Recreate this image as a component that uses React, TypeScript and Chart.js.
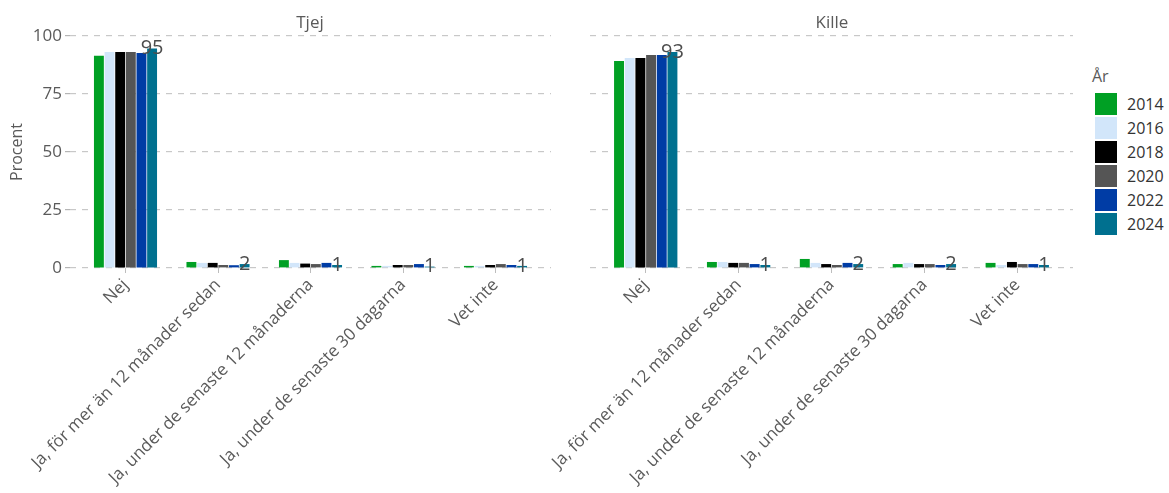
import React, { useEffect, useRef } from "react";
import { Chart, registerables } from "chart.js";

Chart.register(...registerables);

const categories = [
  "Nej",
  "Ja, för mer än 12 månader sedan",
  "Ja, under de senaste 12 månaderna",
  "Ja, under de senaste 30 dagarna",
  "Vet inte",
];
const years = ["2014", "2016", "2018", "2020", "2022", "2024"];
const yearColors = ["#00a024", "#d2e6fa", "#000000", "#555555", "#003ca5", "#00708f"];
const yTicks = [0, 25, 50, 75, 100];

const tjej2014 = [91.5, 2.6, 3.4, 0.9, 0.9];
const tjej2016 = [93.1, 2.2, 2.2, 0.9, 0.9];
const tjej2018 = [93.1, 2.2, 1.9, 1.3, 1.3];
const tjej2020 = [93.1, 1.3, 1.7, 1.3, 1.7];
const tjej2022 = [92.7, 1.2, 2.2, 1.7, 1.3];
const tjej2024 = [94.6, 1.7, 1.3, 0.6, 0.9];

const kille2014 = [89.2, 2.6, 3.9, 1.7, 2.2];
const kille2016 = [90.5, 2.6, 2.2, 2.2, 1.3];
const kille2018 = [90.5, 2.2, 1.7, 1.7, 2.6];
const kille2020 = [91.8, 2.2, 1.3, 1.7, 1.7];
const kille2022 = [91.8, 1.7, 2.2, 1.3, 1.7];
const kille2024 = [93.1, 1.3, 1.7, 1.7, 1.3];

const tjejSeries = [tjej2014, tjej2016, tjej2018, tjej2020, tjej2022, tjej2024];
const killeSeries = [kille2014, kille2016, kille2018, kille2020, kille2022, kille2024];

const FONT = "'Open Sans', 'Noto Sans', sans-serif";
const TEXT = "#5a5a5a";

const lastLabelPlugin = {
  id: "lastLabels",
  afterDatasetsDraw(chart: any) {
    const ctx = chart.ctx;
    const idx = chart.data.datasets.length - 1;
    const meta = chart.getDatasetMeta(idx);
    const ds = chart.data.datasets[idx];
    ctx.save();
    ctx.font = `20px ${FONT}`;
    ctx.fillStyle = "#4d4d4d";
    ctx.textAlign = "center";
    ctx.textBaseline = "middle";
    meta.data.forEach((el: any, i: number) => {
      const v = ds.data[i].y;
      ctx.fillText(String(Math.round(v)), el.x, el.y);
    });
    ctx.restore();
  },
};

function Panel(props: { series: number[][]; showY: boolean; left: number; width: number; yWidth: number; padRight: number }) {
  const ref = useRef<HTMLCanvasElement | null>(null);
  useEffect(() => {
    if (!ref.current) return;
    const chart = new Chart(ref.current, {
      type: "bar",
      data: {
        datasets: props.series.map((vals, k) => ({
          label: years[k],
          data: vals.map((v, i) => ({ x: i + 1, y: v })),
          backgroundColor: yearColors[k],
          borderWidth: 0,
          categoryPercentage: 0.69,
          barPercentage: 0.93,
        })),
      },
      options: {
        animation: false,
        responsive: false,
        maintainAspectRatio: false,
        layout: { padding: { top: 36, right: props.padRight, left: 0, bottom: 0 } },
        plugins: {
          legend: { display: false },
          tooltip: { enabled: false },
          title: { display: false },
        },
        scales: {
          x: {
            type: "linear",
            offset: false,
            min: 0.4,
            max: 5.6,
            afterBuildTicks: (s: any) => {
              s.ticks = categories.map((_, i) => ({ value: i + 1 }));
            },
            afterFit: (s: any) => {
              s.height = 225;
            },
            grid: {
              display: true,
              offset: false,
              drawOnChartArea: false,
              drawTicks: true,
              tickLength: 5,
              tickColor: "#bdbdbd",
              color: "#bdbdbd",
            },
            border: { display: false },
            ticks: {
              autoSkip: false,
              maxRotation: 45,
              minRotation: 45,
              padding: 2,
              color: TEXT,
              font: { family: FONT, size: 17 },
              callback: (v: any) => categories[Math.round(Number(v)) - 1] ?? "",
            },
          },
          y: {
            min: 0,
            max: 100,
            afterBuildTicks: (s: any) => {
              s.ticks = yTicks.map((v) => ({ value: v }));
            },
            afterFit: (s: any) => {
              s.width = props.yWidth;
            },
            grid: {
              color: "#c8c8c8",
              lineWidth: 1.2,
              drawTicks: props.showY,
              tickLength: 5,
              tickColor: "#b5b5b5",
              tickBorderDash: [],
            },
            border: { display: false, dash: [6, 6] },
            ticks: {
              display: props.showY,
              padding: 3,
              color: TEXT,
              font: { family: FONT, size: 17 },
            },
            title: {
              display: props.showY,
              text: "Procent",
              color: TEXT,
              font: { family: FONT, size: 16 },
              padding: { top: 8, bottom: 0 },
            },
          },
        },
      },
      plugins: [lastLabelPlugin],
    } as any);
    return () => chart.destroy();
  }, []);
  return (
    <canvas
      ref={ref}
      width={props.width}
      height={493}
      style={{ position: "absolute", left: props.left, top: 0, width: props.width, height: 493 }}
    />
  );
}

export default function App() {
  return (
    <div style={{ position: "absolute", left: 0, top: 0, width: 1169, height: 493, background: "#fff", overflow: "hidden", fontFamily: FONT }}>
      <Panel series={tjejSeries} showY={true} left={0} width={560} yWidth={70} padRight={9} />
      <Panel series={killeSeries} showY={false} left={520} width={560} yWidth={70} padRight={7} />
      <div style={{ position: "absolute", left: 230, width: 160, top: 10, textAlign: "center", fontSize: 17, color: TEXT }}>Tjej</div>
      <div style={{ position: "absolute", left: 752, width: 160, top: 10, textAlign: "center", fontSize: 17, color: TEXT }}>Kille</div>
      <div style={{ position: "absolute", left: 1092, top: 64, color: TEXT, fontSize: 16 }}>
        <div style={{ height: 28, lineHeight: "24px" }}>År</div>
        {years.map((y, i) => (
          <div key={y} style={{ display: "flex", alignItems: "center", height: 24, marginLeft: 3 }}>
            <div style={{ width: 22, height: 22, background: yearColors[i], marginRight: 10 }} />
            <span style={{ color: "#333" }}>{y}</span>
          </div>
        ))}
      </div>
    </div>
  );
}
